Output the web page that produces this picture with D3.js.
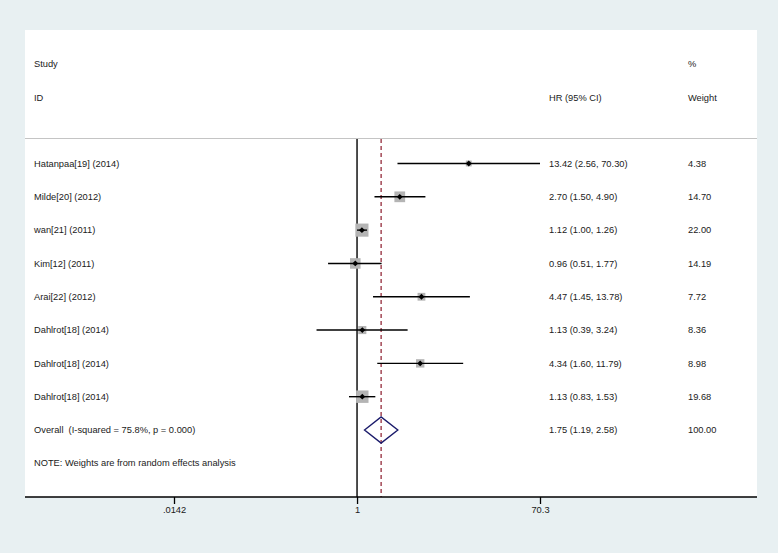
<!DOCTYPE html>
<meta charset="utf-8">
<head>
<title>Forest plot of HR</title>
<script src="https://cdn.jsdelivr.net/npm/d3@7"></script>
<style>
    body { margin: 0; background: #e8f0f2; }
    text { font-family: "Liberation Sans", Arial, sans-serif; font-size: 9.3px; fill: #1a1a1a; white-space: pre; }
</style>
</head>
<body>
<div id="forest"></div>
<script>
    // study data
    var studies = ["Hatanpaa[19] (2014)", "Milde[20] (2012)", "wan[21] (2011)", "Kim[12] (2011)",
                   "Arai[22] (2012)", "Dahlrot[18] (2014)", "Dahlrot[18] (2014)", "Dahlrot[18] (2014)"];
    var hr = [13.42, 2.70, 1.12, 0.96, 4.47, 1.13, 4.34, 1.13];
    var lower = [2.56, 1.50, 1.00, 0.51, 1.45, 0.39, 1.60, 0.83];
    var upper = [70.30, 4.90, 1.26, 1.77, 13.78, 3.24, 11.79, 1.53];
    var weights = ["4.38", "14.70", "22.00", "14.19", "7.72", "8.36", "8.98", "19.68"];
    var overall = {label: "Overall  (I-squared = 75.8%, p = 0.000)", hr: 1.75, lo: 1.19, hi: 2.58, w: "100.00"};
    var tickVals = [0.0142, 1, 70.3];
    var tickLabels = [".0142", "1", "70.3"];

    var width = 778, height = 553;
    var panel = {left: 25, right: 757, top: 30, bottom: 497};

    var svg = d3.select("#forest").append("svg")
                .attr("width", width)
                .attr("height", height);

    // background panel
    svg.append("rect")
       .attr("x", panel.left).attr("y", panel.top)
       .attr("width", panel.right - panel.left)
       .attr("height", panel.bottom - panel.top)
       .attr("fill", "white");

    var x = d3.scaleLog().domain([0.0142, 70.3]).range([174, 540]);

    // row positions
    var rows = studies.map(function(d, i) { return i; }).concat([8]);
    var y = d3.scalePoint().domain(rows).range([163.5, 430]);

    var colHR = 549, colW = 688, colStudy = 34;

    // header
    svg.append("text").attr("x", colStudy).attr("y", 64).attr("dy", "0.35em").text("Study");
    svg.append("text").attr("x", colStudy).attr("y", 98).attr("dy", "0.35em").text("ID");
    svg.append("text").attr("x", colHR).attr("y", 98).attr("dy", "0.35em").text("HR (95% CI)");
    svg.append("text").attr("x", colW).attr("y", 64).attr("dy", "0.35em").text("%");
    svg.append("text").attr("x", colW).attr("y", 98).attr("dy", "0.35em").text("Weight");

    svg.append("line")
       .attr("x1", panel.left).attr("x2", panel.right)
       .attr("y1", 138.5).attr("y2", 138.5)
       .attr("stroke", "#c4c4c4").attr("stroke-width", 1);

    // no-effect line and overall line
    svg.append("line")
       .attr("x1", x(1)).attr("x2", x(1))
       .attr("y1", 139).attr("y2", panel.bottom)
       .attr("stroke", "black").attr("stroke-width", 1.4);
    svg.append("line")
       .attr("x1", x(overall.hr)).attr("x2", x(overall.hr))
       .attr("y1", 139).attr("y2", panel.bottom)
       .attr("stroke", "#8b1a2a").attr("stroke-width", 1.2)
       .attr("stroke-dasharray", "4,3");

    var g = svg.append("g");

    studies.forEach(function(s, i) {
        var yy = y(i);
        var side = 2.8 * Math.sqrt(+weights[i]);
        g.append("rect")
         .attr("x", x(hr[i]) - side / 2).attr("y", yy - side / 2)
         .attr("width", side).attr("height", side)
         .attr("fill", "#b4b4b4");
        g.append("line")
         .attr("x1", x(lower[i])).attr("x2", x(upper[i]))
         .attr("y1", yy).attr("y2", yy)
         .attr("stroke", "black").attr("stroke-width", 1.4);
        g.append("path")
         .attr("d", d3.symbol().type(d3.symbolDiamond2).size(22))
         .attr("transform", "translate(" + x(hr[i]) + "," + yy + ")")
         .attr("fill", "black");

        g.append("text").attr("x", colStudy).attr("y", yy).attr("dy", "0.35em").text(s);
        g.append("text").attr("x", colHR).attr("y", yy).attr("dy", "0.35em")
         .text(hr[i].toFixed(2) + " (" + lower[i].toFixed(2) + ", " + upper[i].toFixed(2) + ")");
        g.append("text").attr("x", colW).attr("y", yy).attr("dy", "0.35em").text(weights[i]);
    });

    // overall diamond
    var yo = y(8);
    g.append("path")
     .attr("d", "M" + x(overall.lo) + "," + yo +
                "L" + x(overall.hr) + "," + (yo - 13) +
                "L" + x(overall.hi) + "," + yo +
                "L" + x(overall.hr) + "," + (yo + 13) + "Z")
     .attr("fill", "none").attr("stroke", "#1b1b6b").attr("stroke-width", 1.4);
    g.append("text").attr("x", colStudy).attr("y", yo).attr("dy", "0.35em").text(overall.label);
    g.append("text").attr("x", colHR).attr("y", yo).attr("dy", "0.35em")
     .text(overall.hr.toFixed(2) + " (" + overall.lo.toFixed(2) + ", " + overall.hi.toFixed(2) + ")");
    g.append("text").attr("x", colW).attr("y", yo).attr("dy", "0.35em").text(overall.w);

    svg.append("text").attr("x", colStudy).attr("y", 463).attr("dy", "0.35em")
       .text("NOTE: Weights are from random effects analysis");

    // x axis
    svg.append("line")
       .attr("x1", panel.left).attr("x2", panel.right)
       .attr("y1", panel.bottom).attr("y2", panel.bottom)
       .attr("stroke", "black").attr("stroke-width", 1.4);
    var axis = svg.append("g").attr("transform", "translate(0," + panel.bottom + ")")
        .call(d3.axisBottom(x).tickValues(tickVals).tickSize(7).tickSizeOuter(0)
              .tickFormat(function(d, i) { return tickLabels[i]; }));
    axis.select(".domain").remove();
    axis.selectAll("line").attr("stroke", "black").attr("stroke-width", 1.3);
    axis.selectAll("text").attr("font-family", null).attr("font-size", null).attr("y", 13).attr("dy", "0.35em");
</script>
</body>
</html>
